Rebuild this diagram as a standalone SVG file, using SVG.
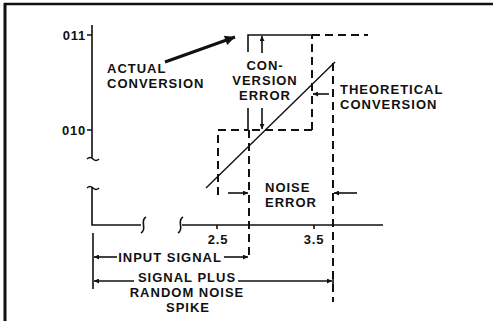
<svg xmlns="http://www.w3.org/2000/svg" width="493" height="321" viewBox="0 0 493 321">
<style>
.t{font-family:"Liberation Sans",Arial,Helvetica,sans-serif;font-weight:bold;font-size:13px;fill:#111;letter-spacing:1px}
.n{font-family:"Liberation Sans",Arial,Helvetica,sans-serif;font-weight:bold;font-size:13px;fill:#111;letter-spacing:0.8px}
.s{stroke:#111;stroke-width:1.6;fill:none}
.d{stroke:#111;stroke-width:2;fill:none;stroke-dasharray:8,5}
.a{stroke:#111;stroke-width:1.6;fill:none;marker-end:url(#ah)}
</style>
<defs>
<marker id="ah" viewBox="0 0 10 10" refX="10" refY="5" markerWidth="8" markerHeight="5" orient="auto" markerUnits="userSpaceOnUse"><path d="M0,0 L10,5 L0,10z" fill="#111"/></marker>
<marker id="big" viewBox="0 0 10 10" refX="10" refY="5" markerWidth="15" markerHeight="10" orient="auto" markerUnits="userSpaceOnUse"><path d="M0,0 L10,5 L0,10z" fill="#111"/></marker>
</defs>
<rect width="493" height="321" fill="#fff"/>
<g id="frame">
<line x1="4" y1="4" x2="493" y2="4" stroke="#111" stroke-width="2.5"/>
<line x1="5" y1="3" x2="5" y2="321" stroke="#111" stroke-width="3"/>
</g>
<g id="axes">
<path class="s" d="M92,25 V158 M87,159 q3,-3 6,0 t6,0"/>
<path class="s" d="M87,188 q3,-3 6,0 t6,0 M92,187 V225 H141 M182,225 H383"/>
<path class="s" d="M146,217 C139,221 148,229 141,233 M183,217 C176,221 185,229 178,233"/>
<path class="s" d="M87,35 H92 M87,130 H92 M217,225 V229 M314,225 V229"/>
</g>
<g id="labels-y">
<text class="n" x="86" y="40" text-anchor="end">011</text>
<text class="n" x="86" y="135" text-anchor="end">010</text>
<text class="n" x="218" y="244" text-anchor="middle">2.5</text>
<text class="n" x="314" y="244" text-anchor="middle">3.5</text>
</g>
<g id="actual-conversion">
<path class="d" d="M218,195 V130 H248"/>
<path class="s" d="M248,130 V108 M248,52 V35 H312" stroke-width="2"/>
<path class="d" d="M312,130 V35 M312,130 H248 M312,35 H368"/>
<text class="t" x="107" y="73">ACTUAL</text>
<text class="t" x="107" y="88">CONVERSION</text>
</g>
<g id="theoretical-conversion">
<line x1="206" y1="188" x2="335" y2="62" stroke="#111" stroke-width="1.4"/>
<text class="t" x="340" y="94">THEORETICAL</text>
<text class="t" x="340" y="109">CONVERSION</text>
</g>
<g id="conversion-error">
<text class="t" x="265" y="70" text-anchor="middle">CON-</text>
<text class="t" x="265" y="85" text-anchor="middle">VERSION</text>
<text class="t" x="265" y="100" text-anchor="middle">ERROR</text>
</g>
<g id="noise-error">
<path class="d" d="M249,130 V258 M333,63 V302"/>
<text class="t" x="265" y="192">NOISE</text>
<text class="t" x="265" y="207">ERROR</text>
</g>
<g id="input-signal">
<line class="s" x1="93" y1="233" x2="93" y2="289"/>
<text class="t" x="170" y="262" text-anchor="middle">INPUT SIGNAL</text>
</g>
<g id="signal-plus-noise">
<line class="s" x1="333" y1="275" x2="333" y2="287"/>
<text class="t" x="187" y="282" text-anchor="middle">SIGNAL PLUS</text>
<text class="t" x="187" y="297" text-anchor="middle">RANDOM NOISE</text>
<text class="t" x="188" y="312" text-anchor="middle">SPIKE</text>
</g>
<g id="connectors">
<line x1="165" y1="62" x2="235" y2="37" stroke="#111" stroke-width="3" marker-end="url(#big)"/>
<line class="a" x1="262" y1="53" x2="262" y2="36"/>
<line class="a" x1="262" y1="108" x2="262" y2="129"/>
<line class="a" x1="329" y1="94" x2="313" y2="94"/>
<line class="a" x1="228" y1="193" x2="248" y2="193"/>
<line class="a" x1="357" y1="193" x2="334" y2="193"/>
<line class="a" x1="117" y1="257" x2="94" y2="257"/>
<line class="a" x1="224" y1="257" x2="248" y2="257"/>
<line class="a" x1="134" y1="281" x2="94" y2="281"/>
<line class="a" x1="238" y1="281" x2="332" y2="281"/>
</g>
</svg>
